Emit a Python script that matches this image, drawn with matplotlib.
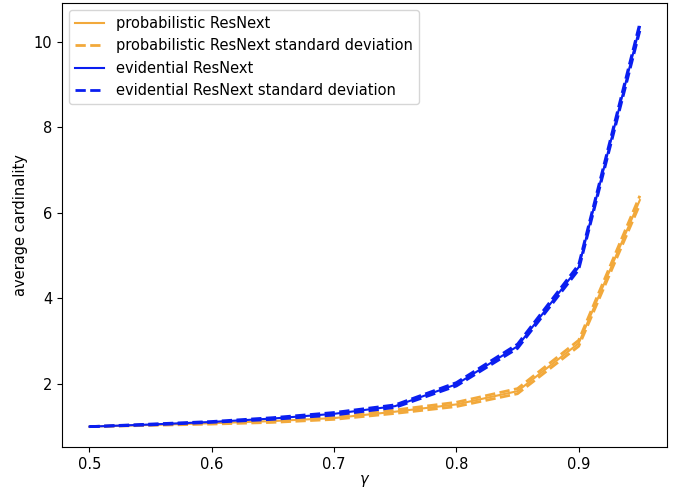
import matplotlib
matplotlib.use("Agg")
import matplotlib.pyplot as plt
import numpy as np

plt.rcParams["font.size"] = 10.5

# gamma thresholds
gammas = [0.5, 0.55, 0.6, 0.65, 0.7, 0.75, 0.8, 0.85, 0.9, 0.95]

# average cardinality per model
prob_mean = [1.0, 1.04, 1.08, 1.13, 1.20, 1.35, 1.52, 1.83, 2.95, 6.30]
prob_std = [0.0, 0.01, 0.02, 0.03, 0.03, 0.04, 0.05, 0.06, 0.07, 0.10]
evid_mean = [1.0, 1.05, 1.11, 1.19, 1.30, 1.48, 1.99, 2.88, 4.73, 10.35]
evid_std = [0.0, 0.01, 0.01, 0.02, 0.03, 0.03, 0.04, 0.05, 0.06, 0.09]

prob_color = "#f2a93b"
evid_color = "#0a1ef0"

fig, ax = plt.subplots(figsize=(6.88, 4.91), dpi=100)
fig.subplots_adjust(left=0.09, right=0.97, top=0.994, bottom=0.09)

pm, ps = np.array(prob_mean), np.array(prob_std)
em, es = np.array(evid_mean), np.array(evid_std)

ax.plot(gammas, pm, color=prob_color, lw=1.5, label="probabilistic ResNext")
ax.plot(gammas, pm + ps, color=prob_color, lw=2, ls="--",
        label="probabilistic ResNext standard deviation")
ax.plot(gammas, pm - ps, color=prob_color, lw=2, ls="--")

ax.plot(gammas, em, color=evid_color, lw=1.5, label="evidential ResNext")
ax.plot(gammas, em + es, color=evid_color, lw=2, ls="--",
        label="evidential ResNext standard deviation")
ax.plot(gammas, em - es, color=evid_color, lw=2, ls="--")

ax.set_xlabel(r"$\gamma$", labelpad=1)
ax.set_ylabel("average cardinality")
ax.legend(loc="upper left")

plt.savefig("out.png")
